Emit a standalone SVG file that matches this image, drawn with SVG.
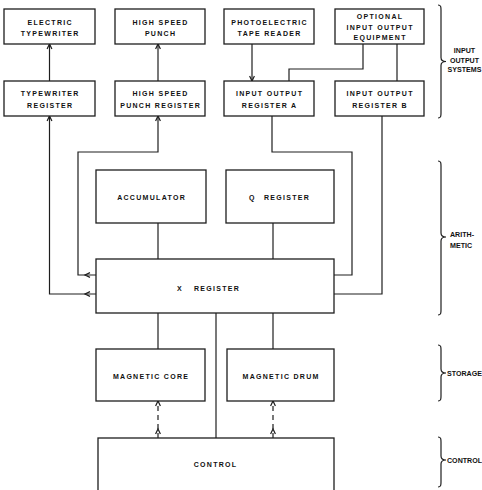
<svg xmlns="http://www.w3.org/2000/svg" width="482" height="490" viewBox="0 0 482 490">
  <style>
    .box { fill: #fff; stroke: #1e1e1e; stroke-width: 1.3; }
    .wire { fill: none; stroke: #1e1e1e; stroke-width: 1.2; }
    .dash { fill: none; stroke: #1e1e1e; stroke-width: 1.2; stroke-dasharray: 5 4; }
    .brace { fill: none; stroke: #1e1e1e; stroke-width: 1.2; }
    .lbl { font-family: "Liberation Sans", Arial, sans-serif; font-weight: bold; font-size: 7px; letter-spacing: 1.3px; fill: #111; text-anchor: middle; }
    .lbs { font-family: "Liberation Sans", Arial, sans-serif; font-weight: bold; font-size: 7px; letter-spacing: 1.3px; fill: #111; }
    .side { font-family: "Liberation Sans", Arial, sans-serif; font-weight: bold; font-size: 7.1px; fill: #111; }
  </style>
  <defs>
    <!-- open arrowhead, tip at origin, pointing up -->
    <path id="ah" d="M -2.4 5 L 0 0 L 2.4 5" fill="none" stroke="#1e1e1e" stroke-width="1.2"/>
  </defs>

  <!-- connectors -->
  <g id="connectors">
    <path class="wire" d="M49.5 44 V81"/>
    <path class="wire" d="M158 44 V81"/>
    <path class="wire" d="M252 44 V81"/>
    <path class="wire" d="M363 44 V69 H289 V81"/>
    <path class="wire" d="M397 44 V81"/>
    <path class="wire" d="M49.5 116 V294 H96"/>
    <path class="wire" d="M158 116 V152 H78 V275 H96"/>
    <path class="wire" d="M272 116 V152 H352 V275 H334"/>
    <path class="wire" d="M382 116 V294 H334"/>
    <path class="wire" d="M158 223 V259"/>
    <path class="wire" d="M273 223 V259"/>
    <path class="wire" d="M158 313 V349"/>
    <path class="wire" d="M273 313 V349"/>
    <path class="wire" d="M216 313 V438"/>
    <path class="dash" d="M158 438 V401"/>
    <path class="dash" d="M273 438 V401"/>
    <use href="#ah" transform="translate(49.5 44)"/>
    <use href="#ah" transform="translate(158 44)"/>
    <use href="#ah" transform="translate(252 81) rotate(180)"/>
    <use href="#ah" transform="translate(49.5 116)"/>
    <use href="#ah" transform="translate(158 116)"/>
    <use href="#ah" transform="translate(85 275) rotate(-90)"/>
    <use href="#ah" transform="translate(85 294) rotate(-90)"/>
    <use href="#ah" transform="translate(158 401)"/>
    <use href="#ah" transform="translate(158 429)"/>
    <use href="#ah" transform="translate(273 401)"/>
    <use href="#ah" transform="translate(273 429)"/>
  </g>

  <!-- input / output devices -->
  <g id="electric-typewriter">
    <rect class="box" x="4" y="9" width="91" height="35"/>
    <text class="lbl" x="50.2" y="24.5">ELECTRIC</text>
    <text class="lbl" x="50.2" y="36">TYPEWRITER</text>
  </g>
  <g id="high-speed-punch">
    <rect class="box" x="115" y="9" width="90" height="35"/>
    <text class="lbl" x="160.6" y="24.5">HIGH SPEED</text>
    <text class="lbl" x="160.6" y="36">PUNCH</text>
  </g>
  <g id="photoelectric-reader">
    <rect class="box" x="224" y="9" width="90" height="35"/>
    <text class="lbl" x="269.6" y="24.5">PHOTOELECTRIC</text>
    <text class="lbl" x="269.6" y="36">TAPE READER</text>
  </g>
  <g id="optional-equipment">
    <rect class="box" x="335" y="9" width="89" height="35"/>
    <text class="lbl" x="380.1" y="19">OPTIONAL</text>
    <text class="lbl" x="380.1" y="29.5">INPUT OUTPUT</text>
    <text class="lbl" x="380.1" y="39.5">EQUIPMENT</text>
  </g>

  <!-- input / output registers -->
  <g id="typewriter-register">
    <rect class="box" x="4" y="81" width="91" height="35"/>
    <text class="lbl" x="50.2" y="96">TYPEWRITER</text>
    <text class="lbl" x="50.2" y="107.5">REGISTER</text>
  </g>
  <g id="punch-register">
    <rect class="box" x="115" y="81" width="90" height="35"/>
    <text class="lbl" x="160.6" y="96">HIGH SPEED</text>
    <text class="lbl" x="160.6" y="107.5">PUNCH REGISTER</text>
  </g>
  <g id="io-register-a">
    <rect class="box" x="224" y="81" width="90" height="35"/>
    <text class="lbl" x="269.6" y="96">INPUT OUTPUT</text>
    <text class="lbl" x="269.6" y="107.5">REGISTER A</text>
  </g>
  <g id="io-register-b">
    <rect class="box" x="335" y="81" width="89" height="35"/>
    <text class="lbl" x="380.1" y="96">INPUT OUTPUT</text>
    <text class="lbl" x="380.1" y="107.5">REGISTER B</text>
  </g>

  <!-- arithmetic unit -->
  <g id="accumulator">
    <rect class="box" x="96" y="170" width="110" height="53"/>
    <text class="lbl" x="151.6" y="199.5">ACCUMULATOR</text>
  </g>
  <g id="q-register">
    <rect class="box" x="226" y="170" width="108" height="53"/>
    <text class="lbs" x="249" y="199.5">Q</text>
    <text class="lbs" x="264" y="199.5">REGISTER</text>
  </g>
  <g id="x-register">
    <rect class="box" x="96" y="259" width="238" height="54"/>
    <text class="lbs" x="177" y="290.5">X</text>
    <text class="lbs" x="194" y="290.5">REGISTER</text>
  </g>

  <!-- storage -->
  <g id="magnetic-core">
    <rect class="box" x="96" y="349" width="109" height="52"/>
    <text class="lbl" x="151.1" y="378.5">MAGNETIC CORE</text>
  </g>
  <g id="magnetic-drum">
    <rect class="box" x="227" y="349" width="107" height="52"/>
    <text class="lbl" x="281.1" y="378.5">MAGNETIC DRUM</text>
  </g>

  <!-- control -->
  <g id="control">
    <rect class="box" x="98" y="438" width="236" height="62"/>
    <text class="lbl" x="215.6" y="467">CONTROL</text>
  </g>

  <!-- section braces -->
  <g id="section-braces">
    <path class="brace" d="M438 5 C441 5 441 7 441 10 L441 57.5 C441 60.5 443 61.5 446 61.5 C443 61.5 441 62.5 441 65.5 L441 113 C441 116 441 118 438 118"/>
    <text class="side" x="464.5" y="53" text-anchor="middle">INPUT</text>
    <text class="side" x="464.5" y="62.5" text-anchor="middle">OUTPUT</text>
    <text class="side" x="464.5" y="72" text-anchor="middle">SYSTEMS</text>

    <path class="brace" d="M438 161 C441 161 441 163 441 166 L441 233 C441 236 443 237 446 237 C443 237 441 238 441 241 L441 310 C441 313 441 315 438 315"/>
    <text class="side" x="450" y="237">ARITH-</text>
    <text class="side" x="450" y="248">METIC</text>

    <path class="brace" d="M438 345 C441 345 441 347 441 350 L441 369 C441 372 443 373 446 373 C443 373 441 374 441 377 L441 396 C441 399 441 401 438 401"/>
    <text class="side" x="447" y="375.5">STORAGE</text>

    <path class="brace" d="M438 437 C441 437 441 439 441 442 L441 456 C441 459 443 460 446 460 C443 460 441 461 441 464 L441 482 C441 485 441 487 438 487"/>
    <text class="side" x="447" y="462.5">CONTROL</text>
  </g>
</svg>
